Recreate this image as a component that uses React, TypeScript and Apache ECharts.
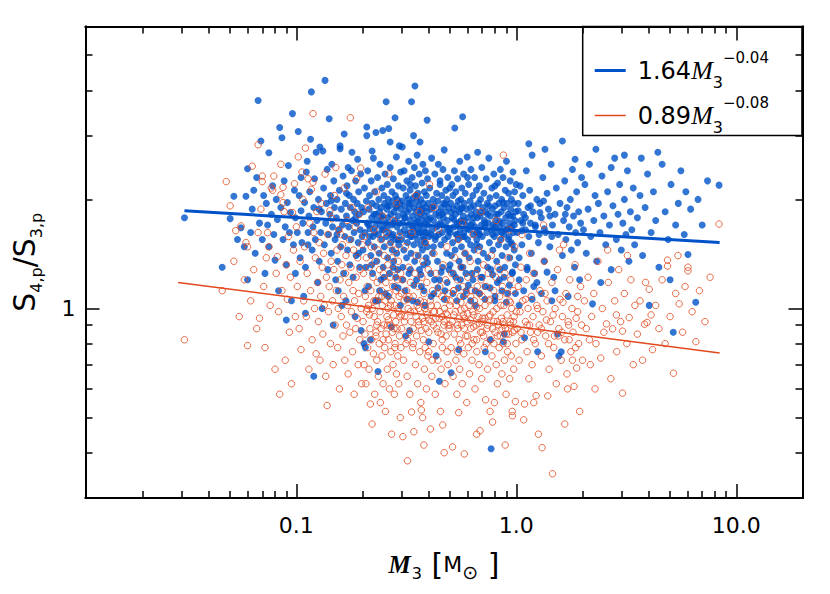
import React, { useEffect, useRef } from 'react';
import * as echarts from 'echarts';

// ---------- axes ----------
const xRange = [0.011, 20];
const yRange = [0.3, 6];
const xMajorTicks = [0.1, 1, 10];
const xTickLabels = ['0.1', '1.0', '10.0'];
const xMinorTicks = [0.02, 0.03, 0.04, 0.05, 0.06, 0.07, 0.08, 0.09, 0.2, 0.3, 0.4, 0.5, 0.6, 0.7, 0.8, 0.9, 2, 3, 4, 5, 6, 7, 8, 9];
const yMajorTicks = [1];
const yTickLabels = ['1'];
const yMinorTicks = [0.4, 0.5, 0.6, 0.7, 0.8, 0.9, 2, 3, 4, 5];

// ---------- fits (legend) ----------
const fitCoefficients = ['1.64', '0.89'];
const fitExponents = ['\u22120.04', '\u22120.08'];
const blueFit = [[0.031, 1.86], [8.4, 1.52]];
const redFit = [[0.029, 1.18], [8.4, 0.754]];

// ---------- S4p/S3p (blue, filled) ----------
const blueBand1 = [
[0.031,1.78],[0.046,1.3],[0.05,1.77],[0.052,2.04],[0.054,1.55],[0.056,1.67],[0.058,1.48],[0.059,2.04],[0.06,2.43],[0.06,1.2],
[0.062,1.62],[0.063,1.88],[0.064,2.12],[0.065,1.42],[0.066,2.3],[0.067,3.75],[0.068,1.72],[0.069,2.9],[0.07,1.55],[0.071,2.05],
[0.072,1.25],[0.073,1.95],[0.074,1.7],[0.075,2.69],[0.075,1.48],[0.077,1.82],[0.078,2.18],[0.079,1.6],[0.08,1.36],[0.081,2.0],
[0.082,1.76],[0.083,1.12],[0.084,3.16],[0.085,1.9],[0.086,2.96],[0.087,1.55],[0.088,2.25],[0.089,1.68],[0.09,1.32],[0.09,0.93],
[0.091,1.96],[0.092,2.48],[0.093,1.62],[0.094,1.84],[0.095,1.05],[0.096,3.45],[0.097,1.5],[0.098,2.12],[0.099,1.78],[0.099,1.25]
];
const blueBand2 = [
[0.101,1.62],[0.102,3.08],[0.103,2.05],[0.104,1.38],[0.105,1.86],[0.105,2.3],[0.106,1.52],[0.107,1.72],[0.108,1.08],[0.109,1.96],
[0.11,1.3],[0.11,0.97],[0.111,2.38],[0.112,2.55],[0.113,1.62],[0.114,1.8],[0.115,2.1],[0.116,2.93],[0.117,3.96],[0.118,1.45],
[0.119,1.68],[0.12,0.65],[0.12,1.9],[0.121,2.28],[0.122,1.55],[0.123,2.7],[0.124,1.75],[0.125,1.18],[0.126,2.0],[0.127,1.35],
[0.128,2.79],[0.129,1.62],[0.13,1.85],[0.131,1.0],[0.132,2.72],[0.133,2.15],[0.134,1.5],[0.135,4.26],[0.136,1.72],[0.137,1.95],
[0.138,2.42],[0.139,1.28],[0.14,1.6],[0.141,3.34],[0.142,1.82],[0.143,2.05],[0.144,1.42],[0.145,2.5],[0.146,1.68],[0.147,0.9],
[0.148,2.25],[0.149,1.9],[0.15,1.55],[0.151,1.2],[0.152,1.78],[0.153,2.0],[0.154,1.35],[0.155,1.12],[0.156,1.65],[0.157,2.12],
[0.158,2.81],[0.158,2.76],[0.159,1.48],[0.16,1.88],[0.161,1.02],[0.162,1.7],[0.163,2.32],[0.164,1.25],[0.165,3.03],[0.166,1.58],
[0.167,1.95],[0.168,1.05],[0.169,1.8],[0.17,2.18],[0.171,1.45],[0.172,2.45],[0.173,1.68],[0.174,2.05],[0.175,1.32],[0.176,1.9],
[0.177,1.55],[0.178,2.4],[0.179,2.7],[0.18,1.75],[0.181,1.22],[0.182,2.0],[0.183,1.62],[0.184,1.85],[0.185,0.95],[0.186,2.25],
[0.187,1.4],[0.188,1.72],[0.189,1.95],[0.19,2.58],[0.191,1.52],[0.192,2.1],[0.193,1.82],[0.194,1.3],[0.195,1.65],[0.196,2.35],
[0.197,0.87],[0.198,1.9],[0.199,1.58],[0.113,1.5],[0.127,1.88],[0.144,1.98],[0.153,1.6],[0.169,2.08],[0.186,1.78],[0.192,1.42]
];
const blueBand3 = [
[0.201,1.45],[0.202,1.85],[0.203,0.8],[0.204,2.15],[0.205,1.62],[0.206,0.78],[0.207,1.3],[0.208,1.98],[0.209,3.17],[0.209,3.0],
[0.21,1.72],[0.211,2.4],[0.212,1.52],[0.213,1.15],[0.214,1.88],[0.215,2.05],[0.216,1.66],[0.217,0.82],[0.218,1.4],[0.219,2.25],
[0.22,1.78],[0.221,1.95],[0.222,1.25],[0.223,1.58],[0.224,2.6],[0.225,1.82],[0.226,1.48],[0.227,2.1],[0.228,1.68],[0.229,1.05],
[0.23,3.06],[0.231,1.92],[0.232,1.35],[0.233,1.75],[0.234,2.3],[0.235,0.67],[0.236,1.6],[0.237,2.0],[0.238,1.42],[0.239,1.85],
[0.24,2.5],[0.241,1.7],[0.242,1.2],[0.243,1.9],[0.244,1.55],[0.245,2.15],[0.246,1.8],[0.247,3.1],[0.248,1.3],[0.249,1.65],
[0.25,2.05],[0.251,1.48],[0.252,1.95],[0.253,2.35],[0.254,1.1],[0.255,1.72],[0.256,3.72],[0.257,1.58],[0.258,1.88],[0.259,2.2],
[0.26,1.38],[0.261,1.78],[0.262,2.0],[0.263,3.14],[0.264,1.62],[0.265,1.25],[0.266,1.92],[0.267,2.45],[0.268,1.52],[0.269,1.82],
[0.27,0.89],[0.271,1.7],[0.272,2.1],[0.273,1.45],[0.274,1.98],[0.275,1.6],[0.276,2.28],[0.277,1.35],[0.278,1.85],[0.279,1.15],
[0.28,1.75],[0.281,3.36],[0.282,2.05],[0.283,1.55],[0.284,1.9],[0.285,2.62],[0.286,1.42],[0.287,1.68],[0.288,2.0],[0.289,1.28],
[0.29,1.8],[0.291,2.18],[0.292,1.5],[0.293,1.72],[0.294,2.81],[0.295,1.95],[0.296,1.62],[0.297,1.02],[0.298,2.38],[0.299,1.88],
[0.213,1.7],[0.227,1.62],[0.244,1.78],[0.258,1.68],[0.272,1.58],[0.286,1.92],[0.221,2.72],[0.267,2.88],[0.239,1.12],[0.283,1.22]
];
const blueBand4 = [
[0.301,1.55],[0.302,1.98],[0.303,2.79],[0.304,1.72],[0.305,1.3],[0.306,2.15],[0.307,1.82],[0.308,1.45],[0.309,2.4],[0.31,1.65],
[0.311,1.92],[0.312,1.12],[0.313,1.78],[0.314,0.84],[0.315,2.05],[0.316,1.6],[0.317,1.38],[0.318,2.25],[0.319,1.85],[0.32,1.52],
[0.322,2.0],[0.323,1.7],[0.324,2.55],[0.325,1.25],[0.326,1.88],[0.327,0.87],[0.328,1.62],[0.329,2.12],[0.33,1.75],[0.332,1.42],
[0.333,1.95],[0.334,3.72],[0.335,1.58],[0.336,2.3],[0.337,1.8],[0.338,1.05],[0.339,1.68],[0.34,2.02],[0.341,3.0],[0.342,1.5],
[0.343,1.9],[0.344,2.45],[0.345,1.35],[0.346,4.11],[0.347,1.72],[0.348,2.18],[0.349,1.6],[0.35,1.85],[0.352,1.2],[0.353,1.98],
[0.354,2.65],[0.355,1.55],[0.356,1.78],[0.357,2.08],[0.358,1.4],[0.359,1.65],[0.36,1.92],[0.362,2.35],[0.363,1.28],[0.364,1.7],
[0.365,2.88],[0.366,1.82],[0.367,1.5],[0.368,2.0],[0.369,1.62],[0.37,1.15],[0.372,1.88],[0.373,2.22],[0.374,1.45],[0.375,1.75],
[0.376,2.5],[0.377,1.58],[0.378,1.95],[0.379,1.32],[0.38,1.68],[0.382,2.1],[0.383,1.8],[0.384,1.02],[0.385,1.52],[0.386,2.4],
[0.387,1.72],[0.388,1.9],[0.389,1.38],[0.39,2.05],[0.391,1.62],[0.392,1.85],[0.393,3.31],[0.394,1.48],[0.395,2.28],[0.396,1.7],
[0.398,1.95],[0.4,0.81],[0.402,1.58],[0.404,2.15],[0.406,1.78],[0.408,1.25],[0.41,1.88],[0.412,2.6],[0.414,1.65],[0.416,1.42],
[0.418,2.0],[0.42,1.75],[0.422,1.1],[0.424,1.92],[0.426,2.35],[0.428,1.55],[0.43,1.82],[0.432,0.74],[0.434,2.08],[0.436,1.68],
[0.438,1.35],[0.44,1.98],[0.442,2.5],[0.444,1.6],[0.446,1.85],[0.447,0.63],[0.448,1.2],[0.45,2.2],[0.452,1.72],[0.454,1.5],
[0.456,1.9],[0.458,2.05],[0.46,1.62],[0.462,1.3],[0.464,2.42],[0.466,1.78],[0.468,1.95],[0.47,2.74],[0.472,1.55],[0.474,1.12],
[0.476,1.85],[0.478,2.12],[0.48,1.68],[0.482,1.42],[0.484,2.0],[0.486,1.75],[0.488,2.3],[0.49,1.58],[0.492,1.9],[0.494,1.28],
[0.496,1.65],[0.498,2.15],[0.36,1.62],[0.38,1.55],[0.41,1.6],[0.44,1.7],[0.33,1.58],[0.46,1.82],[0.35,2.05],[0.42,1.48]
];
const blueBand5 = [
[0.501,1.62],[0.503,1.95],[0.505,0.665],[0.507,1.4],[0.509,2.2],[0.511,1.78],[0.513,1.52],[0.515,2.05],[0.517,1.25],[0.519,1.88],
[0.521,1.68],[0.523,2.4],[0.525,3.15],[0.527,1.45],[0.529,1.82],[0.531,2.1],[0.533,1.6],[0.535,1.92],[0.537,1.05],[0.539,1.72],
[0.541,2.28],[0.543,1.55],[0.545,1.98],[0.547,0.77],[0.549,1.35],[0.551,1.85],[0.553,2.55],[0.555,1.65],[0.557,1.2],[0.559,2.0],
[0.561,1.75],[0.563,1.48],[0.565,2.15],[0.567,1.9],[0.569,1.58],[0.57,3.38],[0.572,1.3],[0.574,1.8],[0.576,2.35],[0.578,1.62],
[0.58,1.95],[0.583,1.42],[0.586,2.08],[0.589,1.7],[0.592,1.12],[0.595,1.88],[0.598,2.62],[0.601,1.55],[0.604,1.78],[0.607,2.2],
[0.61,1.38],[0.613,1.65],[0.616,1.98],[0.619,1.5],[0.622,2.42],[0.625,1.82],[0.628,1.25],[0.631,1.72],[0.634,2.05],[0.637,1.6],
[0.64,1.92],[0.643,1.45],[0.646,2.3],[0.649,1.68],[0.652,1.02],[0.655,1.85],[0.658,2.12],[0.661,1.55],[0.664,1.78],[0.667,2.7],
[0.67,1.35],[0.673,1.95],[0.676,1.62],[0.679,2.18],[0.682,1.48],[0.685,1.8],[0.688,2.0],[0.691,1.22],[0.694,1.7],[0.697,2.45],
[0.7,1.58],[0.704,1.9],[0.708,1.42],[0.712,2.08],[0.716,1.75],[0.72,1.15],[0.723,0.76],[0.726,1.85],[0.73,2.28],[0.734,1.62],
[0.738,1.95],[0.742,1.38],[0.746,1.72],[0.75,2.6],[0.754,1.52],[0.758,2.02],[0.76,0.82],[0.762,1.8],[0.766,1.28],[0.768,0.41],
[0.77,1.65],[0.774,2.15],[0.778,1.88],[0.782,1.45],[0.786,1.7],[0.79,2.35],[0.794,1.58],[0.798,1.05],[0.802,1.92],[0.806,1.75],
[0.81,2.05],[0.814,1.35],[0.818,1.62],[0.822,2.22],[0.826,1.82],[0.83,1.5],[0.834,1.95],[0.838,1.2],[0.842,1.68],[0.846,2.42],
[0.85,1.55],[0.854,1.85],[0.858,2.0],[0.862,1.4],[0.866,1.72],[0.87,2.3],[0.873,0.81],[0.876,1.6],[0.88,1.9],[0.882,0.85],
[0.886,1.3],[0.89,2.12],[0.894,1.78],[0.898,1.48],[0.902,2.55],[0.906,1.65],[0.91,1.95],[0.914,1.1],[0.918,1.82],[0.922,2.08],
[0.926,1.58],[0.93,1.72],[0.934,1.38],[0.938,2.25],[0.942,1.88],[0.946,1.52],[0.95,2.0],[0.954,1.68],[0.958,1.25],[0.962,1.8],
[0.966,2.38],[0.97,1.62],[0.974,1.95],[0.978,1.45],[0.982,2.1],[0.986,1.75],[0.99,1.32],[0.994,1.85],[0.998,2.2],[0.62,1.7],
[0.68,1.6],[0.74,1.82],[0.8,1.68],[0.86,1.62],[0.92,1.55],[0.55,1.72],[0.58,1.58],[0.66,1.5],[0.72,1.68],[0.96,1.5]
];
const blueBand6 = [
[1.01,1.62],[1.02,1.95],[1.03,1.38],[1.04,2.18],[1.05,1.75],[1.06,1.5],[1.07,2.05],[1.08,1.82],[1.09,0.83],[1.1,1.65],
[1.11,2.4],[1.12,1.28],[1.13,1.9],[1.14,1.58],[1.15,2.12],[1.16,1.72],[1.17,1.42],[1.18,2.65],[1.19,1.85],[1.2,1.15],
[1.22,1.68],[1.24,2.0],[1.25,0.76],[1.26,1.52],[1.28,1.95],[1.3,1.78],[1.32,2.3],[1.34,1.35],[1.36,1.62],[1.38,2.08],
[1.4,1.88],[1.42,1.48],[1.44,2.5],[1.46,1.7],[1.48,1.22],[1.5,1.82],[1.52,2.15],[1.54,0.85],[1.55,1.6],[1.56,0.74],
[1.58,1.95],[1.6,0.76],[1.62,1.4],[1.64,1.75],[1.66,2.25],[1.68,1.55],[1.7,1.9],[1.72,1.08],[1.74,1.68],[1.76,2.0],
[1.78,1.45],[1.8,2.42],[1.82,1.8],[1.84,1.3],[1.86,1.62],[1.88,2.1],[1.9,1.52],[1.92,1.85],[1.94,1.2],[1.96,1.72],
[1.98,2.3],[1.14,2.85],[1.35,2.75],[1.62,2.9],[1.27,1.6],[1.45,1.58],[1.07,1.72],[1.33,1.98],[1.67,1.82],[1.85,2.58],
[1.03,1.02],[1.21,1.25],[1.5,1.12]
];
const blueBand7 = [
[2.02,1.65],[2.05,2.2],[2.08,1.42],[2.12,1.88],[2.15,2.5],[2.18,1.58],[2.22,1.03],[2.25,1.75],[2.28,2.05],[2.32,1.35],
[2.36,1.95],[2.4,1.62],[2.42,1.18],[2.45,2.32],[2.5,1.8],[2.55,1.5],[2.6,2.1],[2.65,1.7],[2.7,1.28],[2.75,1.92],
[2.8,2.6],[2.85,1.55],[2.9,1.82],[2.95,2.2],[3.0,1.45],[3.05,1.72],[3.1,2.0],[3.15,1.6],[3.2,2.4],[3.25,1.35],
[3.3,1.85],[3.35,1.65],[3.4,2.15],[3.45,1.5],[2.3,2.75],[2.7,2.45],[3.1,2.65]
];
const blueBand8 = [
[3.55,1.78],[3.65,2.05],[3.75,1.4],[3.85,1.9],[3.95,2.35],[4.02,1.02],[4.1,1.62],[4.2,2.1],[4.3,1.75],[4.45,1.3],
[4.6,2.5],[4.75,1.85],[4.9,1.55],[5.05,2.2],[5.17,0.86],[5.3,1.7],[5.45,1.95],[5.6,2.4],[5.8,1.6],[6.03,1.41],
[6.2,1.88],[6.54,1.04],[6.7,2.0],[7.0,1.7],[7.4,2.25],[8.35,2.19],[4.4,2.7],[5.0,1.2],[5.9,2.1],[3.7,2.6]
];
const blueCoreLow = [
[0.205,1.12],[0.22,1.32],[0.235,1.05],[0.25,1.22],[0.262,1.08],[0.275,1.3],[0.29,1.14],[0.305,1.2],[0.318,1.06],[0.33,1.28],
[0.342,1.16],[0.355,1.04],[0.368,1.24],[0.38,1.12],[0.395,1.34],[0.41,1.08],[0.425,1.2],[0.44,1.14],[0.455,1.26],[0.47,1.06],
[0.485,1.18],[0.5,1.32],[0.515,1.1],[0.53,1.22],[0.545,1.14],[0.56,1.3],[0.575,1.08],[0.59,1.25],[0.605,1.16],[0.62,1.05],
[0.635,1.2],[0.65,1.12],[0.665,1.28],[0.68,1.1],[0.7,1.22],[0.72,1.06],[0.74,1.3],[0.76,1.14],[0.78,1.24],[0.8,1.08],
[0.82,1.18],[0.84,1.28],[0.86,1.12],[0.88,1.22],[0.9,1.04],[0.93,1.16],[0.96,1.26],[0.99,1.1],[1.03,1.2],[1.08,1.12],
[1.12,1.3],[1.18,1.06],[1.24,1.18],[1.3,1.1],[1.38,1.26],[1.45,1.05]
];
const blueCoreMid = [
[0.215,1.58],[0.23,1.82],[0.245,1.65],[0.26,1.92],[0.275,1.72],[0.29,1.55],[0.31,1.78],[0.325,1.95],[0.34,1.66],[0.355,1.74],
[0.37,1.86],[0.385,1.62],[0.4,1.76],[0.415,1.9],[0.43,1.58],[0.445,1.8],[0.46,1.7],[0.475,1.94],[0.49,1.64],[0.505,1.84],
[0.52,1.76],[0.54,1.6],[0.56,1.88],[0.58,1.74],[0.6,1.66],[0.62,1.9],[0.64,1.78],[0.66,1.62],[0.69,1.84],[0.72,1.72],
[0.75,1.92],[0.78,1.6],[0.81,1.82],[0.84,1.74],[0.87,1.96],[0.9,1.66],[0.94,1.8],[0.98,1.7],[1.02,1.86],[1.06,1.64],
[1.1,1.78],[1.16,1.92],[1.22,1.7],[1.28,1.84],[1.34,1.66],[1.42,1.8],[0.33,2.2],[0.45,2.25],[0.6,2.3],[0.8,2.18]
];

// ---------- S4p/S3p (red, open) ----------
const redBand1 = [
[0.031,0.82],[0.046,1.12],[0.048,2.24],[0.05,1.92],[0.052,1.35],[0.053,1.64],[0.055,0.95],[0.056,1.69],[0.058,1.2],[0.059,1.52],
[0.06,1.48],[0.06,0.79],[0.062,1.05],[0.063,2.47],[0.064,1.28],[0.066,0.88],[0.067,2.83],[0.067,1.62],[0.068,0.94],[0.069,1.88],
[0.07,2.32],[0.07,2.24],[0.071,1.15],[0.072,0.78],[0.073,1.38],[0.074,1.62],[0.075,1.48],[0.076,1.02],[0.077,2.15],[0.078,2.12],
[0.079,2.32],[0.08,0.68],[0.081,1.25],[0.082,1.39],[0.083,0.98],[0.084,0.58],[0.085,2.5],[0.085,2.06],[0.086,1.12],[0.087,2.16],
[0.087,1.96],[0.088,1.85],[0.089,0.72],[0.09,1.32],[0.091,1.06],[0.092,1.58],[0.093,0.86],[0.094,1.22],[0.095,0.62],[0.096,1.84],
[0.097,1.45],[0.098,2.21],[0.099,0.95],[0.1,1.68]
];
const redBand2 = [
[0.101,1.15],[0.102,2.62],[0.103,0.88],[0.104,1.35],[0.105,0.77],[0.106,2.38],[0.107,2.0],[0.108,1.05],[0.109,1.48],[0.11,2.77],
[0.111,0.95],[0.112,1.25],[0.113,2.28],[0.114,0.68],[0.115,1.72],[0.116,1.12],[0.117,2.13],[0.118,0.82],[0.119,3.45],[0.119,2.23],
[0.12,1.62],[0.121,1.0],[0.122,1.38],[0.123,0.75],[0.124,1.85],[0.125,1.18],[0.126,0.92],[0.127,1.52],[0.128,0.72],[0.129,1.08],
[0.13,1.95],[0.131,1.3],[0.132,0.85],[0.133,1.42],[0.134,1.02],[0.135,2.35],[0.136,0.65],[0.137,1.22],[0.138,0.54],[0.139,1.6],
[0.14,0.98],[0.141,1.15],[0.142,1.86],[0.143,0.8],[0.144,1.35],[0.145,1.77],[0.146,1.05],[0.147,0.7],[0.148,1.28],[0.149,2.05],
[0.15,0.9],[0.151,2.45],[0.152,1.12],[0.153,1.45],[0.154,0.78],[0.155,1.0],[0.156,1.65],[0.157,0.6],[0.158,1.2],[0.159,1.6],
[0.16,0.95],[0.161,1.32],[0.162,1.5],[0.163,0.84],[0.164,1.08],[0.165,2.15],[0.166,0.72],[0.167,1.25],[0.168,1.4],[0.169,0.9],
[0.17,1.75],[0.171,1.02],[0.172,0.66],[0.173,1.18],[0.174,1.55],[0.175,0.86],[0.176,3.36],[0.177,1.3],[0.178,0.98],[0.179,1.9],
[0.18,0.76],[0.181,1.12],[0.182,1.45],[0.183,0.58],[0.184,1.05],[0.185,1.68],[0.186,0.88],[0.187,1.22],[0.188,2.28],[0.189,0.94],
[0.19,1.38],[0.191,0.7],[0.192,1.1],[0.193,1.82],[0.194,0.82],[0.195,1.28],[0.196,2.44],[0.197,1.0],[0.198,0.62],[0.199,1.5]
];
const redBand3 = [
[0.201,0.92],[0.202,1.25],[0.203,0.7],[0.204,1.58],[0.205,0.85],[0.206,1.08],[0.207,0.62],[0.208,1.38],[0.209,0.98],[0.21,1.15],
[0.211,0.78],[0.212,1.9],[0.213,1.02],[0.214,0.68],[0.215,1.3],[0.216,0.88],[0.217,0.545],[0.218,1.12],[0.219,1.48],[0.22,0.82],
[0.221,0.48],[0.222,1.0],[0.223,1.22],[0.224,0.75],[0.225,1.65],[0.226,0.95],[0.227,0.58],[0.228,1.35],[0.229,1.05],[0.23,0.86],
[0.231,2.1],[0.232,0.72],[0.233,1.18],[0.234,0.92],[0.235,1.45],[0.236,0.65],[0.237,1.08],[0.238,0.8],[0.239,1.28],[0.24,0.98],
[0.241,0.55],[0.242,1.55],[0.243,0.88],[0.244,1.12],[0.245,0.74],[0.246,1.02],[0.247,1.8],[0.248,0.62],[0.249,1.25],[0.25,0.9],
[0.251,1.4],[0.252,0.78],[0.253,1.05],[0.254,0.52],[0.255,1.18],[0.256,0.85],[0.257,1.62],[0.258,0.95],[0.259,0.68],[0.26,1.32],
[0.261,1.0],[0.262,0.82],[0.263,2.35],[0.264,1.1],[0.265,0.6],[0.266,1.5],[0.267,0.9],[0.268,1.22],[0.269,0.76],[0.27,1.05],
[0.271,0.45],[0.272,1.38],[0.273,0.86],[0.274,1.15],[0.275,0.7],[0.276,1.75],[0.277,0.96],[0.278,1.28],[0.279,0.58],[0.28,1.02],
[0.281,0.8],[0.282,1.45],[0.283,0.92],[0.284,1.12],[0.285,0.66],[0.286,1.95],[0.287,0.88],[0.288,1.2],[0.289,0.74],[0.29,1.0],
[0.291,1.35],[0.292,0.62],[0.293,1.08],[0.294,0.84],[0.295,1.58],[0.296,0.95],[0.297,0.5],[0.298,1.25],[0.299,0.78],[0.3,1.1],
[0.215,0.96],[0.232,0.9],[0.248,0.82],[0.262,0.93],[0.278,0.88],[0.292,0.98],[0.225,1.05],[0.268,1.02]
];
const redBand4 = [
[0.301,0.88],[0.303,1.2],[0.305,0.443],[0.307,0.72],[0.309,1.05],[0.311,0.95],[0.313,1.48],[0.315,0.8],[0.317,1.12],[0.319,0.65],
[0.32,0.38],[0.322,1.0],[0.324,1.3],[0.326,0.86],[0.328,0.58],[0.33,1.18],[0.332,0.92],[0.334,0.518],[0.336,1.62],[0.338,0.78],
[0.34,1.08],[0.342,0.457],[0.344,0.98],[0.346,1.25],[0.348,0.7],[0.35,1.4],[0.352,0.84],[0.354,1.02],[0.356,0.62],[0.358,1.15],
[0.36,0.9],[0.362,1.85],[0.364,0.76],[0.366,1.05],[0.368,0.55],[0.37,0.525],[0.372,1.22],[0.374,0.94],[0.375,0.5],[0.376,1.35],
[0.378,0.82],[0.38,1.1],[0.382,0.68],[0.384,1.0],[0.386,1.52],[0.388,0.88],[0.39,0.6],[0.392,1.18],[0.394,0.96],[0.396,0.74],
[0.398,1.28],[0.4,0.86],[0.403,2.2],[0.406,1.05],[0.407,0.465],[0.41,0.92],[0.413,0.65],[0.416,1.12],[0.419,0.8],[0.422,1.42],
[0.425,0.98],[0.428,0.58],[0.431,1.25],[0.434,0.88],[0.437,1.02],[0.44,0.72],[0.443,1.65],[0.446,0.94],[0.449,1.15],[0.452,0.52],
[0.455,0.85],[0.458,1.08],[0.461,0.78],[0.463,0.477],[0.465,1.32],[0.468,0.9],[0.471,1.0],[0.474,0.62],[0.477,1.2],[0.48,0.84],
[0.483,1.48],[0.486,0.96],[0.489,0.7],[0.492,1.1],[0.495,0.88],[0.498,1.02],[0.31,0.92],[0.33,0.98],[0.35,0.95],[0.37,0.87],
[0.39,0.98],[0.41,1.02],[0.43,0.94],[0.45,0.98],[0.47,0.92],[0.49,0.9],[0.32,0.82],[0.36,1.0],[0.4,0.93],[0.44,0.86],
[0.48,0.97],[0.34,0.88],[0.38,0.92],[0.42,0.9],[0.46,0.95],[0.325,1.08],[0.385,0.78],[0.415,0.72],[0.455,0.68],[0.485,0.76],
[0.35,2.05],[0.42,1.9],[0.38,0.42],[0.47,0.4]
];
const redBand5 = [
[0.502,1.05],[0.505,0.78],[0.508,1.25],[0.511,0.92],[0.513,0.415],[0.516,0.65],[0.519,1.12],[0.522,0.85],[0.525,1.38],[0.528,0.98],
[0.531,0.72],[0.534,1.02],[0.537,0.58],[0.54,1.2],[0.543,0.88],[0.546,1.55],[0.547,0.516],[0.55,0.94],[0.553,0.68],[0.556,1.08],
[0.559,0.8],[0.562,1.3],[0.565,0.9],[0.568,0.62],[0.571,1.15],[0.574,0.96],[0.577,0.75],[0.58,0.397],[0.583,1.0],[0.586,1.42],
[0.589,0.84],[0.592,1.1],[0.595,0.55],[0.598,0.92],[0.601,1.22],[0.605,0.78],[0.609,1.02],[0.613,0.66],[0.617,1.35],[0.621,0.88],
[0.625,1.12],[0.629,0.72],[0.633,0.98],[0.637,1.6],[0.641,0.82],[0.645,1.05],[0.649,0.6],[0.653,1.25],[0.657,0.9],[0.661,0.76],
[0.665,1.15],[0.669,0.95],[0.673,1.45],[0.677,0.7],[0.681,1.0],[0.684,0.46],[0.688,0.86],[0.692,1.2],[0.696,0.64],[0.7,1.08],
[0.705,0.92],[0.71,1.32],[0.715,0.78],[0.72,1.02],[0.725,0.56],[0.73,1.15],[0.735,0.88],[0.74,0.68],[0.745,1.25],[0.75,0.95],
[0.755,1.05],[0.76,0.52],[0.765,0.82],[0.77,1.4],[0.775,0.74],[0.78,0.486],[0.785,0.98],[0.79,1.12],[0.795,0.55],[0.8,0.86],
[0.805,1.22],[0.81,0.7],[0.815,1.0],[0.82,0.62],[0.825,1.3],[0.83,0.9],[0.835,0.78],[0.84,1.08],[0.845,0.84],[0.85,1.55],
[0.855,0.94],[0.86,0.66],[0.865,1.15],[0.87,0.8],[0.873,2.65],[0.878,1.02],[0.883,0.72],[0.888,1.25],[0.893,0.88],[0.898,0.58],
[0.903,1.1],[0.908,0.96],[0.913,0.76],[0.918,1.38],[0.923,0.85],[0.928,1.05],[0.933,0.64],[0.938,0.92],[0.943,1.2],[0.948,0.74],
[0.953,1.0],[0.958,0.52],[0.96,0.506],[0.963,0.86],[0.968,1.12],[0.973,0.68],[0.978,0.95],[0.983,1.48],[0.99,0.554],[0.995,0.8],
[0.52,0.96],[0.54,0.9],[0.56,0.99],[0.58,0.88],[0.6,0.97],[0.62,0.93],[0.64,0.89],[0.66,1.01],[0.68,0.91],[0.7,0.86],
[0.72,0.94],[0.74,0.9],[0.76,0.96],[0.78,0.88],[0.82,0.92],[0.86,0.88],[0.9,0.85],[0.94,0.9],[0.98,0.87],[0.55,0.82],
[0.63,0.8],[0.71,0.84],[0.79,0.8],[0.87,0.92],[0.57,1.72],[0.69,1.85],[0.81,1.75],[0.93,1.65],[0.66,0.45],[0.89,0.42]
];
const redBand6 = [
[1.01,0.88],[1.02,1.15],[1.03,0.72],[1.04,0.98],[1.05,1.3],[1.06,0.82],[1.07,1.05],[1.08,0.493],[1.09,0.545],[1.1,0.92],
[1.11,1.2],[1.12,0.76],[1.13,1.0],[1.14,0.64],[1.15,1.42],[1.16,0.86],[1.17,1.08],[1.18,0.7],[1.19,0.95],[1.2,1.25],
[1.22,0.8],[1.23,0.575],[1.24,1.02],[1.26,0.45],[1.27,0.9],[1.28,1.12],[1.3,0.74],[1.31,0.413],[1.32,0.98],[1.34,1.35],
[1.36,0.84],[1.38,1.05],[1.39,0.574],[1.41,0.68],[1.43,0.92],[1.45,1.18],[1.46,0.35],[1.48,0.78],[1.5,1.0],[1.52,0.62],
[1.54,1.28],[1.56,0.88],[1.58,1.06],[1.6,0.72],[1.62,0.95],[1.64,1.5],[1.66,0.82],[1.68,1.1],[1.7,0.66],[1.71,0.6],
[1.73,0.9],[1.75,1.2],[1.77,0.76],[1.79,1.0],[1.81,0.86],[1.83,0.61],[1.85,1.32],[1.87,0.94],[1.88,0.685],[1.9,1.08],
[1.92,0.8],[1.94,0.52],[1.96,1.15],[1.98,0.9],[1.12,0.9],[1.25,0.86],[1.37,0.93],[1.49,0.84],[1.61,0.86],[1.74,0.82],
[1.86,0.78],[1.06,1.6],[1.33,1.7],[1.57,1.45],[1.2,0.55],[1.66,0.48]
];
const redBand7 = [
[2.0,0.72],[2.04,1.05],[2.08,0.88],[2.12,1.22],[2.17,0.7],[2.2,0.95],[2.25,1.1],[2.3,0.8],[2.35,1.35],[2.42,0.73],
[2.46,1.0],[2.5,0.86],[2.57,0.907],[2.62,1.18],[2.69,0.64],[2.74,0.879],[2.8,1.05],[2.86,0.76],[2.92,1.28],[2.98,0.92],
[3.04,0.866],[3.04,0.584],[3.1,1.1],[3.18,0.8],[3.26,0.944],[3.32,1.2],[3.4,0.7],[3.46,1.02],[2.28,0.6],[2.6,1.45],
[2.15,0.82],[2.85,0.96],[3.2,1.4]
];
const redBand8 = [
[3.55,0.85],[3.65,1.05],[3.75,0.72],[3.83,0.905],[3.87,1.18],[3.93,0.915],[4.02,1.13],[4.1,0.96],[4.16,0.77],[4.3,1.02],
[4.45,0.88],[4.6,1.2],[4.75,0.8],[4.87,1.36],[4.87,1.31],[5.0,0.95],[5.18,0.663],[5.3,1.1],[5.43,1.4],[5.5,1.03],
[5.7,0.86],[5.85,1.15],[6.03,1.3],[6.03,1.27],[6.3,0.98],[6.55,0.81],[6.8,1.12],[7.2,0.92],[7.6,1.22],[8.35,1.71]
];
const redCore = [
[0.21,1.0],[0.23,0.84],[0.245,1.08],[0.26,0.9],[0.28,0.78],[0.3,0.96],[0.32,1.06],[0.34,0.8],[0.36,0.92],[0.38,1.04],
[0.4,0.76],[0.42,0.98],[0.44,1.1],[0.46,0.82],[0.48,1.06],[0.5,0.9],[0.52,1.12],[0.54,0.76],[0.56,1.04],[0.58,0.94],
[0.6,0.84],[0.62,1.08],[0.64,0.96],[0.66,0.82],[0.68,1.1],[0.7,0.94],[0.73,0.8],[0.76,1.06],[0.79,0.92],[0.82,0.84],
[0.85,1.02],[0.88,0.9],[0.91,0.8],[0.94,1.04],[0.97,0.92],[1.0,0.98],[1.05,0.86],[1.1,1.06],[1.15,0.9],[1.2,0.82],
[1.25,1.0],[1.3,0.88],[1.35,1.1],[1.4,0.8],[1.47,0.96],[1.55,0.84],[1.63,1.04],[1.72,0.92],[1.8,0.72],[1.9,0.98]
];

const BLUE = '#0052c8';
const RED = '#e2491e';
const lg = Math.log10;
const toLog = (pts: number[][]) => pts.map(([x, y]) => [lg(x), lg(y)]);

const bluePoints = [...blueBand1, ...blueBand2, ...blueBand3, ...blueBand4, ...blueBand5, ...blueBand6, ...blueBand7, ...blueBand8, ...blueCoreLow, ...blueCoreMid];
const redPoints = [...redBand1, ...redBand2, ...redBand3, ...redBand4, ...redBand5, ...redBand6, ...redBand7, ...redBand8, ...redCore];

const fitNames = fitCoefficients.map((c, i) => `${c}M3^${fitExponents[i]}`);
const legendIcons = ['path://M0,0H31V3H0Z', 'path://M0,0H31V1.5H0Z'];

const labelStyle = { fontFamily: 'DejaVu Sans', fontSize: 22, color: '#000' };

function makeAxis(kind: 'x' | 'y', position: string, ticks: number[], length: number, withLabels: boolean, extra: any = {}) {
  const range = kind === 'x' ? xRange : yRange;
  const major = kind === 'x' ? xMajorTicks : yMajorTicks;
  const labels = kind === 'x' ? xTickLabels : yTickLabels;
  return {
    type: 'value',
    position,
    min: lg(range[0]),
    max: lg(range[1]),
    axisLine: { show: true, onZero: false, lineStyle: { color: '#000', width: 2 } },
    axisTick: { show: true, inside: true, length, customValues: ticks.map(lg), lineStyle: { color: '#000', width: 1.5 } },
    axisLabel: withLabels
      ? {
          show: true,
          customValues: major.map(lg),
          margin: kind === 'x' ? 16 : 10,
          formatter: (v: number) => {
            const i = major.findIndex((m) => Math.abs(lg(m) - v) < 1e-6);
            return i >= 0 ? labels[i] : '';
          },
          ...labelStyle,
        }
      : { show: false },
    splitLine: { show: false },
    ...extra,
  };
}

export default function App() {
  const ref = useRef<HTMLDivElement>(null);
  useEffect(() => {
    if (!ref.current) return;
    const chart = echarts.init(ref.current, null, { renderer: 'svg' });
    const option: any = {
      animation: false,
      textStyle: { fontFamily: 'DejaVu Sans' },
      grid: { left: 85.5, right: 27.5, top: 26.5, bottom: 96, containLabel: false, outerBoundsMode: 'none' },
      xAxis: [
        makeAxis('x', 'bottom', xMajorTicks, 14, true, {
          name: '{m|M}{s|3}{b| [}{u|M}{o|\u2299}{b| ]}',
          nameLocation: 'middle',
          nameGap: 49,
          nameMoveOverlap: false,
          nameTextStyle: {
            rich: {
              m: { fontFamily: 'Liberation Serif', fontStyle: 'italic', fontWeight: 'bold', fontSize: 25, lineHeight: 34, verticalAlign: 'middle', color: '#000' },
              s: { fontFamily: 'DejaVu Sans', fontSize: 16, lineHeight: 21, verticalAlign: 'bottom', color: '#000', padding: [0, 0, 0, 1] },
              b: { fontFamily: 'DejaVu Sans', fontSize: 30, lineHeight: 34, verticalAlign: 'middle', color: '#000' },
              u: { fontFamily: 'DejaVu Sans', fontSize: 22, lineHeight: 34, verticalAlign: 'middle', color: '#000' },
              o: { fontFamily: 'DejaVu Sans', fontSize: 19, lineHeight: 22, verticalAlign: 'bottom', color: '#000' },
            },
          },
        }),
        makeAxis('x', 'bottom', xMinorTicks, 7, false),
        makeAxis('x', 'top', xMajorTicks, 14, false),
        makeAxis('x', 'top', xMinorTicks, 7, false),
      ],
      yAxis: [
        makeAxis('y', 'left', yMajorTicks, 14, true, {
          name: '{s|S}{b|4,p}{s|/S}{b|3,p}',
          nameLocation: 'middle',
          nameRotate: 90,
          nameGap: 41,
          nameMoveOverlap: false,
          nameTextStyle: {
            rich: {
              s: { fontFamily: 'DejaVu Sans', fontSize: 30, lineHeight: 40, verticalAlign: 'middle', color: '#000' },
              b: { fontFamily: 'DejaVu Sans', fontSize: 16, lineHeight: 30, verticalAlign: 'bottom', color: '#000' },
            },
          },
        }),
        makeAxis('y', 'left', yMinorTicks, 7, false),
        makeAxis('y', 'right', yMajorTicks, 14, false),
        makeAxis('y', 'right', yMinorTicks, 7, false),
      ],
      legend: {
        orient: 'vertical',
        left: 582.7,
        top: 26.5,
        padding: [24, 33, 0, 12],
        itemGap: 5,
        itemWidth: 31,
        itemHeight: 14,
        borderColor: '#000',
        borderWidth: 1.5,
        selectedMode: false,
        symbolKeepAspect: true,
        data: fitNames.map((n, i) => ({ name: n, icon: legendIcons[i] })),
        formatter: (name: string) => {
          const i = fitNames.indexOf(name);
          return `{n|${fitCoefficients[i]}}{m|M}{s|3}{p|${fitExponents[i]}}`;
        },
        textStyle: {
          color: '#000',
          rich: {
            n: { fontFamily: 'DejaVu Sans', fontSize: 24, lineHeight: 40, verticalAlign: 'middle', padding: [0, 0, 0, 7], color: '#000' },
            m: { fontFamily: 'Liberation Serif', fontStyle: 'italic', fontSize: 26, lineHeight: 40, verticalAlign: 'middle', color: '#000' },
            s: { fontFamily: 'DejaVu Sans', fontSize: 16, lineHeight: 16, verticalAlign: 'bottom', color: '#000' },
            p: { fontFamily: 'DejaVu Sans', fontSize: 15, lineHeight: 23, verticalAlign: 'top', color: '#000' },
          },
        },
      },
      series: [
        {
          name: 'S4p/S3p (filled)',
          type: 'scatter',
          xAxisIndex: 0,
          yAxisIndex: 0,
          data: toLog(bluePoints),
          symbol: 'circle',
          symbolSize: 7,
          itemStyle: { color: BLUE },
          silent: true,
        },
        {
          name: 'S4p/S3p (open)',
          type: 'scatter',
          xAxisIndex: 0,
          yAxisIndex: 0,
          data: toLog(redPoints),
          symbol: 'circle',
          symbolSize: 6.5,
          itemStyle: { color: 'rgba(255,255,255,0)', borderColor: RED, borderWidth: 1 },
          silent: true,
        },
        {
          name: fitNames[0],
          type: 'line',
          xAxisIndex: 0,
          yAxisIndex: 0,
          data: toLog(blueFit),
          symbol: 'none',
          showSymbol: false,
          lineStyle: { color: BLUE, width: 3 },
          itemStyle: { color: BLUE },
          silent: true,
        },
        {
          name: fitNames[1],
          type: 'line',
          xAxisIndex: 0,
          yAxisIndex: 0,
          data: toLog(redFit),
          symbol: 'none',
          showSymbol: false,
          lineStyle: { color: RED, width: 1.5 },
          itemStyle: { color: RED },
          silent: true,
        },
      ],
    };
    chart.setOption(option);
    return () => chart.dispose();
  }, []);
  return <div ref={ref} style={{ position: 'absolute', left: 0, top: 0, width: 830, height: 594, background: '#fff' }} />;
}
